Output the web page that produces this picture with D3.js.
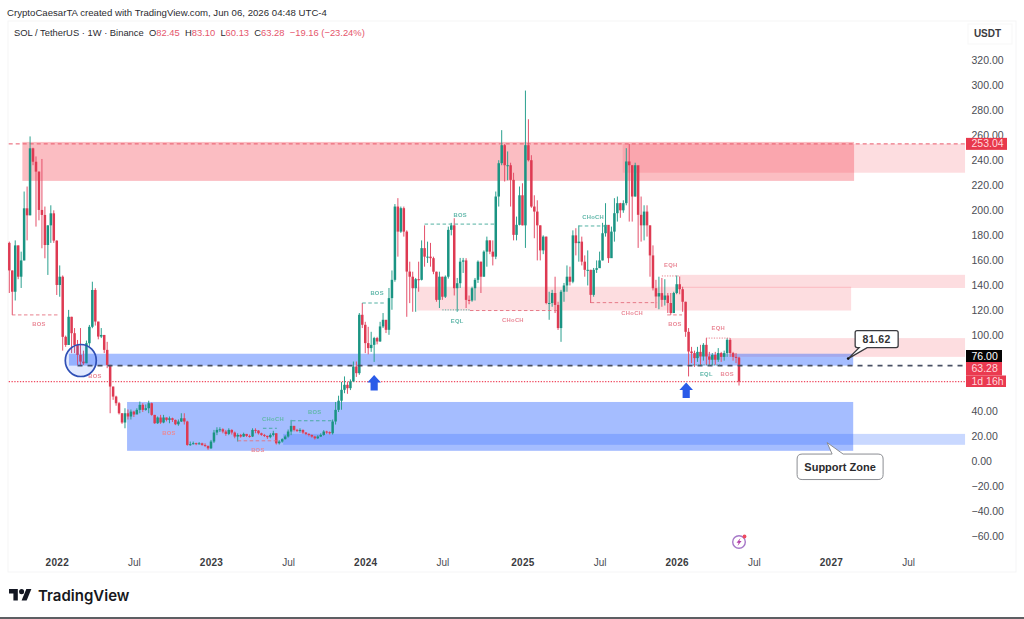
<!DOCTYPE html>
<html><head><meta charset="utf-8">
<script src="https://cdn.jsdelivr.net/npm/d3@7"></script>
<style>
html,body{margin:0;padding:0;background:#fff}
svg{display:block}
text{font-family:"Liberation Sans",Arial,sans-serif}
</style></head><body><svg id="c" width="1024" height="619"></svg>
<script>
const firstWeek = new Date(Date.UTC(2021,8,13));
const lastWeek  = new Date(Date.UTC(2026,5,1));
const firstOpen = 174;
const closes = [152,135,172,147,160,201.6,196,249.5,238.8,230.9,
200.3,196.3,172.3,188,197.6,175.8,140.4,147,99,92.5,
115,101.9,92.5,84.6,79.2,77.9,93.9,107,136.4,111.2,
99.2,100.5,88.6,76.6,59.3,51.3,46,38,30.6,38,
35.4,39.3,37,40.7,44.7,40.7,42,46,36.7,30,
34.6,30.6,34.6,32.7,34,32.7,29.2,31.4,34,31.4,
12.7,13.3,14.1,13.5,14,12.7,12,10,15.4,22.6,
24.7,25.2,23.4,21.5,24.7,22.6,19.4,20.7,19.4,21.5,
19.9,19.4,24.7,24.2,22,20.7,20,18.9,20.7,22,
14,15.4,17.3,19.4,23.4,27.9,24.7,24,24.7,22.6,
21.5,20.7,19.4,18,19.4,20.7,23.4,22.9,22,31.4,
40.7,48,56.7,60.7,58,63.4,75.3,70,116.6,108.6,
94,90,92.6,98,95.3,107.3,112.6,104.6,129.9,144.5,
203,183,201.7,183,151.1,147,137.8,145,144.5,169.8,
163,163,161.8,151,128.5,147,131,147,184.4,188,
137.8,141.8,159,160,128.5,128,137.8,144.5,159,147,
167,176,167,163,211,237.6,252,236,236,224.3,
180.4,188.4,212,188,252,240,203,199,188,168,
179,126,126,134,124.5,106,135,140,147,143,
180,173.8,175,159,152.5,152.5,132.5,152.5,153.8,160,
181.7,188.4,161.8,183,197.7,205.7,200,205.7,239,236,
211,236,196.4,188,199,188,164,137.8,131.2,133.9,
128.5,132,126,118,134,141,137,127,103,87.3,
86,82,87,83.3,92.6,83.3,80.7,84.6,80.7,86,
83,86,96.6,86,83,82.45,63.28];
const highs = [175,152,176,172,167,215,219,259,250,243,
231,241,203,188,204,200,176,156,148,100,
120.5,115,106,96.5,106,88,96,108.5,143,137.8,
111,106,100.5,95,76.6,59.3,52,47,38,42,
41,41,40,42,47.3,46,45,48,46.5,36.7,
35.4,36.7,36.7,34.6,35.4,34.5,33,33,38,38,
32,15.4,15.4,14.5,15,14.5,14,12,16.7,24.7,
26.8,26.8,26,24.7,26,25.2,23.4,22,21.5,22.5,
21.5,21,26,26,24.5,22.5,21.5,20,22,24,
22,16.5,18,20.5,25,32.7,28,25.5,26,25,
23,22,21,20,20.5,22,24.5,24,23.5,33,
47,52,63,67.4,63,65,79.3,79.3,118,126,
111,107,103,99,99,111,118,112.5,138,152,
205,209.7,203,203,184,159,151,146,159,176,
188,175,174,163,151,151,147,148,187,190,
193.7,146,162,162,161.8,132,139,146,160,159,
168,179,176,176,215,240,264,253,247,238,
230,195,219,221.6,295.6,272.7,244,212,208,188,
180,179,135,136.5,147,127,136.5,142,156,155,
184,185.7,188,179,164,168,152.5,154,160,167,
190,205.7,187,187,209.7,211,206,208,249.6,253,
236,238,228,211,204,204,188,172,144.5,147,
146,145,134,134,135,148,147.2,139,127,106,
91,88,91,92.6,94,98,87,86,87,90,
87,88,98,98,87,86,83.1];
const lows = [134,116.5,128,145,138,160,176,196,236,187,
192,169.7,161.7,148.4,174,174,132.4,131,88,91,
92.5,86,86,76.6,76.6,76.6,78,91.2,105.9,108,
97,98,86,74,38,48.7,44,37,29.5,26,
33,33,35,38,38,39,40,38,36,29.5,
29.5,29.5,30,31.5,30,31,28.5,28,31,29,
12,12,13,12.5,13,12,11,8.8,9.5,14.2,
20.5,23,22,20,20.5,21,18,15.4,18.5,19,
19,18.5,19,22,21,20,19,17.5,18,19.5,
13,13,14.5,17,18.5,20.5,23.5,23,22.5,21.5,
20.5,19.5,18.5,17,17.5,19,20,21.5,21,21,
29,39,40.8,54,53.5,56.5,63,67,68.7,106,
86,85,87,79,93,95,106,102,100.6,120.6,
143,163,182,179,115,125.9,119,119,135,144,
155,158,155,149,127,122,128.5,130,145.5,180,
132,119,138,150,122,125,127,128,142,134,
147,155,165,156,161,203,236,223,224,203,
176,176,188,188,170,239,202,177.7,160,160,
165,125,112.6,123,118,104.5,95,127,135,140,
141.8,164,159,156,147,140,126,131,150,155,
160,179,158,162,175,191,194,198,204,191,
191,211,170,175,176,179,147,136,122,121,
123,124,118,116.5,118,133,133,119,99,67.4,
78,75,79,76,80,76.5,76.5,76.5,76.7,79,
79,80,83,83,80,78,60.13];
const yTicks = [320,300,280,260,240,220,200,180,160,140,120,100,40,20,0,-20,-40,-60];
const yearTicks = [[2022,0,3],[2023,0,2],[2024,0,1],[2025,0,6],[2026,0,5],[2027,0,4]];
const julTicks  = [[2022,6,4],[2023,6,3],[2024,6,1],[2025,6,7],[2026,6,6],[2027,6,5]];
const redZones = [[4.4,284.8,254.6,223.5,.33],[206.8,322.2,253,230,.17],[226,322.2,148.5,138,.17],[137.5,283.8,139,120,.17],[243,322.2,98,83,.17]];
const blueZones = [[20.1,284.5,85.5,76,.42],[39.7,284.5,47,8,.42],[92.3,322.2,21.5,12.8,.25]];
const segments = [[.9,17,116.5,"r",""],[85.5,90.2,26,"g",""],[95.3,109.1,32,"g",""],[77,90.2,16,"r",""],
[119,126.3,126,"g",""],[140,163.7,189,"g",""],[146,155.3,120.5,"g","d"],[155.3,184.6,120,"r",""],
[192,201.5,187.5,"g",""],[196,218.4,126.3,"r",""],[221.8,226.8,116.5,"r",""],[220,225.8,147.6,"r","d"],
[234.9,243,98,"r","d"],[230.5,239.6,76.6,"g","d"]];
const labels = [["BOS",10,109.4,"r"],["BOS",28.9,67.9,"r"],["BOS",53.8,22.4,"r"],["CHoCH",88.9,33.5,"g"],["BOS",103,39,"g"],
["BOS",83.8,8.8,"r"],["BOS",124,134,"g"],["BOS",152,196.4,"g"],["EQL",151,112,"g"],["CHoCH",169.8,112.6,"r"],
["CHoCH",196.8,194.8,"g"],["CHoCH",210,118.4,"r"],["BOS",224.4,109.4,"r"],["EQH",223,156,"r"],["EQH",239,106,"r"],
["EQL",235,69.5,"g"],["BOS",242,69.5,"r"]];
const arrows = [[123,68.5],[228.2,62.5]];
const lastClose = 63.28, topLine = 253.04, supportLine = 76, calloutValue = 81.62;

const GREEN="#1a9483", RED="#de3a52", FAR=322.2;
const svg=d3.select("#c");
const parse=a=>new Date(Date.UTC(...a));
const x=d3.scaleUtc().domain([firstWeek,lastWeek]).range([9.3,739]);
const y=d3.scaleLinear().domain([-60,320]).range([536,60]);
const wk=i=>x(new Date(+firstWeek+i*6048e5));
const candles=closes.map((c,i)=>({i,o:i?closes[i-1]:firstOpen,c,h:highs[i],l:lows[i]}));

// frame
svg.append("rect").attr("x",8).attr("y",21).attr("width",1008).attr("height",551).attr("fill","#fff").attr("stroke","#f5f5f6");
svg.append("rect").attr("x",968).attr("y",24).attr("width",44).attr("height",20).attr("fill","#fff").attr("stroke","#f7f7f7");

const marks=svg.append("g").attr("style","filter:blur(.45px)");
marks.selectAll(".rz").data(redZones).join("rect").attr("x",d=>wk(d[0])).attr("width",d=>wk(d[1])-wk(d[0]))
 .attr("y",d=>y(d[2])).attr("height",d=>y(d[3])-y(d[2])).attr("fill","#f23645").attr("fill-opacity",d=>d[4]);
marks.selectAll(".bz").data(blueZones).join("rect").attr("x",d=>wk(d[0])).attr("width",d=>wk(d[1])-wk(d[0]))
 .attr("y",d=>y(d[2])).attr("height",d=>y(d[3])-y(d[2])).attr("fill","#2962ff").attr("fill-opacity",d=>d[4]);

// level lines
marks.append("line").attr("x1",wk(-.2)).attr("x2",wk(FAR)).attr("y1",y(topLine)).attr("y2",y(topLine)).attr("stroke","#e8596b").attr("stroke-width",1).attr("stroke-dasharray","4 3");
marks.append("line").attr("x1",wk(-.2)).attr("x2",wk(FAR)).attr("y1",y(lastClose)).attr("y2",y(lastClose)).attr("stroke","#f04a60").attr("stroke-width",1.3).attr("stroke-dasharray","1.3 1.5");

// candles
marks.selectAll(".w").data(candles).join("line").attr("x1",d=>wk(d.i)).attr("x2",d=>wk(d.i)).attr("y1",d=>y(d.h)).attr("y2",d=>y(d.l))
 .attr("stroke",d=>d.c>=d.o?"#2ba08f":"#e4506a").attr("stroke-width",1);
marks.selectAll(".b").data(candles).join("rect").attr("x",d=>wk(d.i)-1.25).attr("width",2.5)
 .attr("y",d=>y(Math.max(d.o,d.c))).attr("height",d=>Math.max(1,Math.abs(y(d.o)-y(d.c))))
 .attr("fill",d=>d.c>=d.o?GREEN:RED);

marks.append("line").attr("x1",wk(23)).attr("x2",wk(FAR)).attr("y1",y(supportLine)).attr("y2",y(supportLine)).attr("stroke","#4a5164").attr("stroke-width",1.7).attr("stroke-dasharray","5 5");

// structure annotations
const segColor=k=>k==="g"?"#3fa898":"#e4707f";
marks.selectAll(".s").data(segments).join("line").attr("x1",d=>wk(d[0])).attr("x2",d=>wk(d[1])).attr("y1",d=>y(d[2])).attr("y2",d=>y(d[2]))
 .attr("stroke",d=>segColor(d[3])).attr("stroke-width",.9).attr("stroke-dasharray",d=>d[4]?"1.2 1.4":"3.5 2.5");
marks.selectAll(".l").data(labels).join("text").text(d=>d[0]).attr("x",d=>wk(d[1])).attr("y",d=>y(d[2])+2)
 .attr("text-anchor","middle").attr("font-size",5.8).attr("font-weight",700).attr("letter-spacing",.3).attr("fill",d=>d[3]==="g"?"#62b8ab":"#ea8a98");

// circle + arrows
marks.append("ellipse").attr("cx",wk(24.1)).attr("cy",y(80.1)).attr("rx",15.5).attr("ry",16).attr("fill","#2962ff").attr("fill-opacity",.14).attr("stroke","#2f4fb5").attr("stroke-width",1.7);
marks.selectAll(".a").data(arrows).join("path")
 .attr("transform",d=>`translate(${wk(d[0])},${y(d[1])})`)
 .attr("d","M0,0 L6.8,7.5 L3.6,7.5 L3.6,15.5 L-3.6,15.5 L-3.6,7.5 L-6.8,7.5 Z").attr("fill","#2a5be8");

// callouts
const c1=svg.append("g").attr("transform",`translate(${wk(282.8)},${y(calloutValue)})`);
c1.append("path").attr("d","M0,0 L11,-11 L9,-11 Q7,-11 7,-13 L7,-26 Q7,-28 9,-28 L48,-28 Q50,-28 50,-26 L50,-13 Q50,-11 48,-11 L19,-11 Z").attr("fill","#fff").attr("stroke","#3a3a3e").attr("stroke-width",1.3);
c1.append("circle").attr("r",1.3).attr("fill","#111");
c1.append("text").text("81.62").attr("x",28.5).attr("y",-15.5).attr("text-anchor","middle").attr("font-size",10.5).attr("font-weight",700).attr("fill","#333").attr("letter-spacing",.4);
const c2=svg.append("g").attr("transform",`translate(${wk(275.7)},${y(14.6)})`);
c2.append("path").attr("d","M0,0 L16,11.5 L51,11.5 Q56,11.5 56,16.5 L56,32 Q56,37 51,37 L-25,37 Q-30,37 -30,32 L-30,16.5 Q-30,11.5 -25,11.5 L5,11.5 Z").attr("fill","#fff").attr("stroke","#8b8d92").attr("stroke-width",1);
c2.append("text").text("Support Zone").attr("x",13).attr("y",28).attr("text-anchor","middle").attr("font-size",11).attr("font-weight",700).attr("fill","#2b2b2e");

// axes
const yAxis=svg.append("g").attr("transform","translate(971.5,0)").call(d3.axisRight(y).tickValues(yTicks).tickSize(0).tickPadding(0).tickFormat(d=>(d<0?"\u2212"+(-d).toFixed(2):d.toFixed(2))));
yAxis.select(".domain").remove();
yAxis.selectAll("text").attr("font-size",10.5).attr("fill","#4b4d54").attr("font-family","'Liberation Sans',Arial,sans-serif");

const yrAxis=svg.append("g").attr("transform","translate(0,559)").call(d3.axisBottom(x).tickValues(yearTicks.map(parse)).tickSize(0).tickPadding(0).tickFormat(d3.utcFormat("%Y")));
yrAxis.select(".domain").remove();
yrAxis.selectAll("text").attr("font-size",10).attr("font-weight",700).attr("letter-spacing",.3).attr("fill","#3a3b40").attr("font-family","'Liberation Sans',Arial,sans-serif");
const jlAxis=svg.append("g").attr("transform","translate(0,559)").call(d3.axisBottom(x).tickValues(julTicks.map(parse)).tickSize(0).tickPadding(0).tickFormat(d3.utcFormat("%b")));
jlAxis.select(".domain").remove();
jlAxis.selectAll("text").attr("font-size",10).attr("fill","#4b4d54").attr("font-family","'Liberation Sans',Arial,sans-serif");

// price tags
function tag(x0,x1,y0,y1,fill,txt,color){
 svg.append("rect").attr("x",x0).attr("y",y0).attr("width",x1-x0).attr("height",y1-y0).attr("fill",fill);
 svg.append("text").text(txt).attr("x",971.5).attr("y",(y0+y1)/2+3.6).attr("font-size",10.5).attr("fill",color);
}
tag(966,1007,y(topLine)-6,y(topLine)+6,"#e8394c","253.04","#ffd9dd");
tag(966,1002,350,362,"#050505","76.00","#fff");
tag(966,1002,362,375.5,"#ea3a50","63.28","#ffd9dd");
tag(966,1006,375.5,387,"#ea3a50","1d 16h","#ffd9dd");

// header
svg.append("text").text("CryptoCaesarTA created with TradingView.com, Jun 06, 2026 04:48 UTC-4").attr("x",7).attr("y",15.5).attr("font-size",9.6).attr("letter-spacing",.02).attr("fill","#2b2b30");
const hd=svg.append("text").attr("x",14).attr("y",36.3).attr("font-size",9.4).attr("fill","#2b2b30");
[["SOL / TetherUS \u00b7 1W \u00b7 Binance  ",0],["O",0],["82.45",1],["  H",0],["83.10",1],["  L",0],["60.13",1],["  C",0],["63.28",1],["  \u221219.16 (\u221223.24%)",1]]
 .forEach(t=>hd.append("tspan").text(t[0]).style("white-space","pre").attr("fill",t[1]?"#e5566c":"#2b2b30"));
svg.append("text").text("USDT").attr("x",987.5).attr("y",37).attr("text-anchor","middle").attr("font-size",10).attr("font-weight",700).attr("fill","#3a3b40");

// icon
const ic=svg.append("g").attr("transform","translate(739,542)");
ic.append("circle").attr("r",6.3).attr("fill","#fff").attr("stroke","#a678c8").attr("stroke-width",1.4);
ic.append("path").attr("d","M1.5,-4 L-2.5,0.8 L-0.3,0.8 L-1.5,4 L2.6,-1 L0.4,-1 Z").attr("fill","#b43fa8");
ic.append("circle").attr("cx",5.5).attr("cy",-5.5).attr("r",1.9).attr("fill","#ef4b5f");

// logo
const lg=svg.append("g").attr("transform","translate(9,586.6) scale(.63)").attr("fill","#131722");
lg.append("path").attr("d","M14 22H7V11H0V4h14v18z");
lg.append("path").attr("d","M28 22h-8l7.5-18h8L28 22z");
lg.append("circle").attr("cx",20).attr("cy",8).attr("r",4);
svg.append("text").text("TradingView").attr("x",38).attr("y",601).style("font-family","Inter").attr("font-size",15).attr("font-weight",600).attr("fill","#17181c");

svg.append("rect").attr("x",0).attr("y",617).attr("width",1024).attr("height",2).attr("fill","#5d5f63");
</script></body></html>
